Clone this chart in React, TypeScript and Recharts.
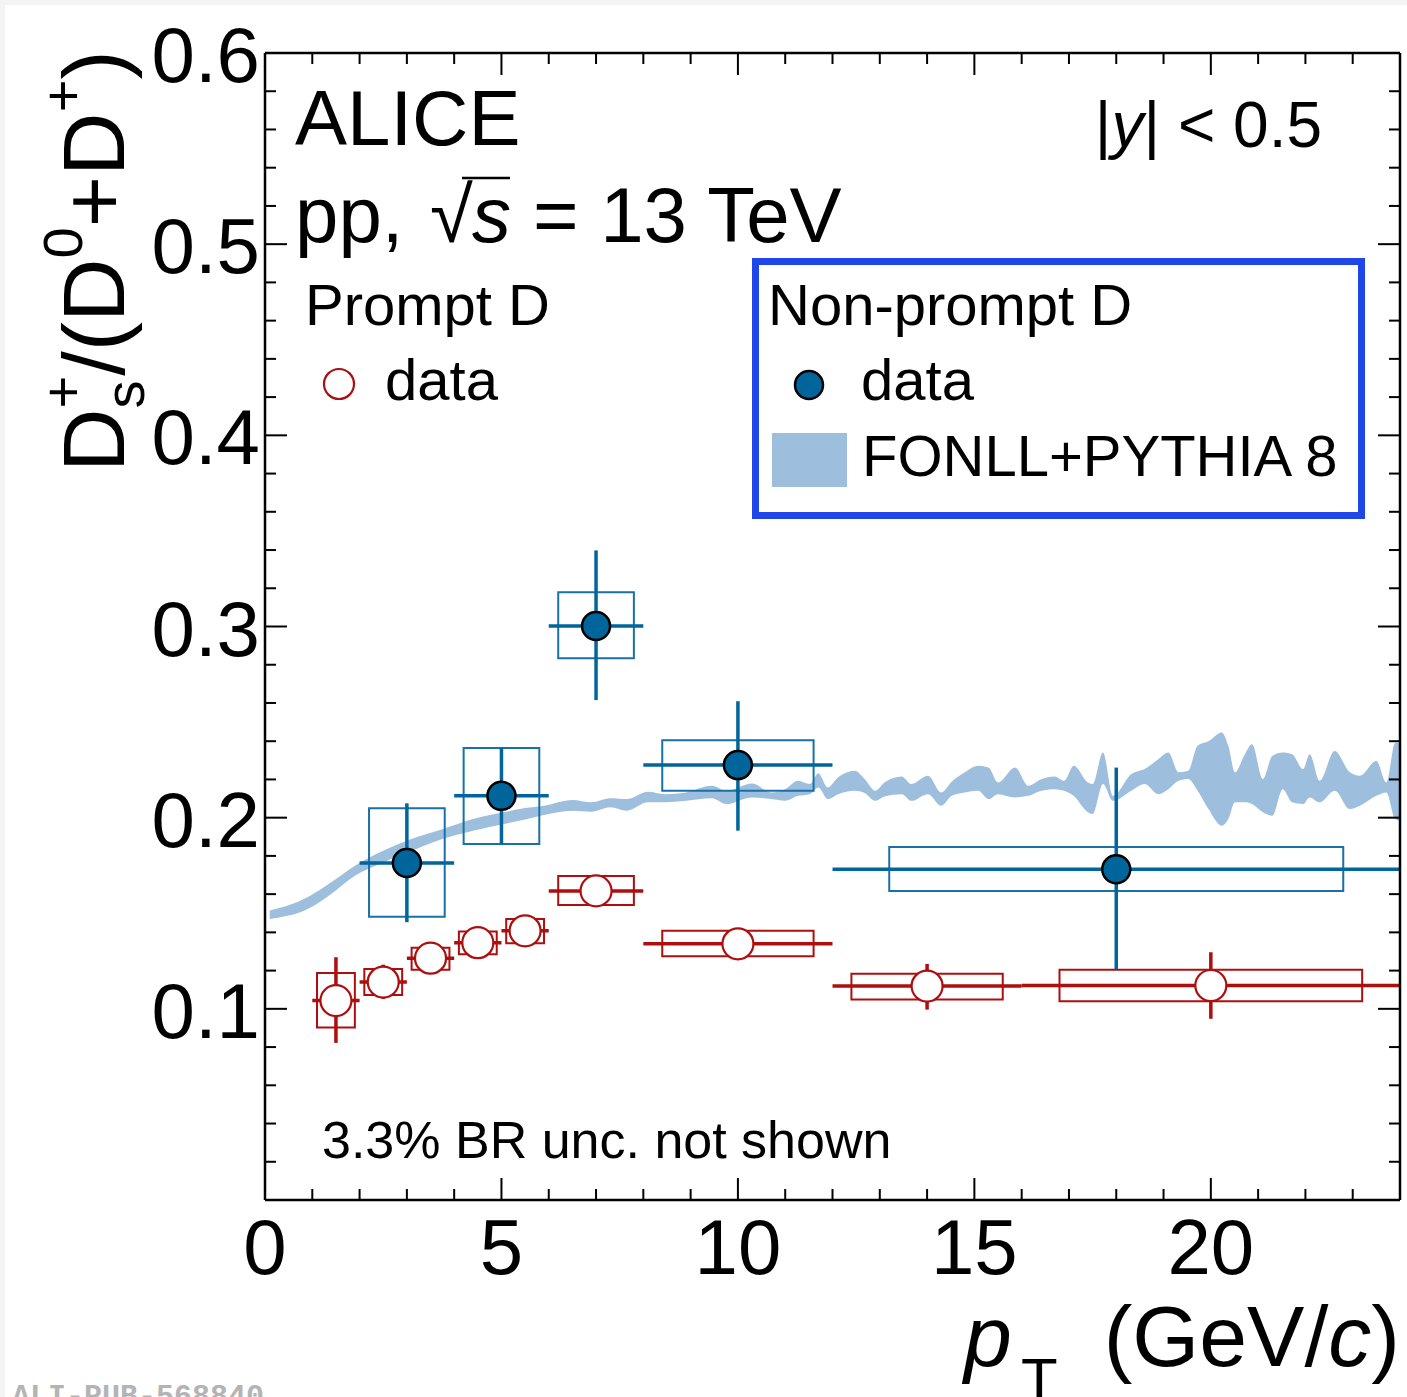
import React from "react";
import {
  ComposedChart,
  Area,
  Scatter,
  ErrorBar,
  XAxis,
  YAxis,
  ReferenceArea,
} from "recharts";

const FONT = '"Liberation Sans", Arial, Helvetica, sans-serif';
const RED = "#ad0f0f";
const BLUE = "#00659b";
const BLUE_BOX = "#1a70a8";
const BAND = "#9dbfdd";
const LEGEND_BORDER = "#1f46e8";

// Non-prompt D (filled blue)
const npX = [3, 5, 7, 10, 18];
const npXLo = [2, 4, 6, 8, 12];
const npXHi = [4, 6, 8, 12, 24];
const npY = [0.1763, 0.2114, 0.3003, 0.2275, 0.173];
const npStatLo = [0.1453, 0.1862, 0.2615, 0.1932, 0.1208];
const npStatHi = [0.2075, 0.2364, 0.3398, 0.2609, 0.2262];
const npSysXLo = [2.2, 4.2, 6.2, 8.4, 13.2];
const npSysXHi = [3.8, 5.8, 7.8, 11.6, 22.8];
const npSysLo = [0.1482, 0.1862, 0.2834, 0.2141, 0.1617];
const npSysHi = [0.2049, 0.2365, 0.3179, 0.2405, 0.1847];

// Prompt D (open red)
const pX = [1.5, 2.5, 3.5, 4.5, 5.5, 7, 10, 14, 20];
const pXLo = [1, 2, 3, 4, 5, 6, 8, 12, 16];
const pXHi = [2, 3, 4, 5, 6, 8, 12, 16, 24];
const pY = [0.1043, 0.114, 0.1265, 0.1346, 0.1408, 0.1617, 0.134, 0.1119, 0.1122];
const pStatLo = [0.0822, 0.1052, 0.1205, 0.129, 0.1355, 0.1575, 0.129, 0.0996, 0.0948];
const pStatHi = [0.127, 0.1231, 0.1325, 0.1402, 0.146, 0.166, 0.139, 0.1235, 0.1296];
const pSysXLo = [1.1, 2.1, 3.1, 4.1, 5.1, 6.2, 8.4, 12.4, 16.8];
const pSysXHi = [1.9, 2.9, 3.9, 4.9, 5.9, 7.8, 11.6, 15.6, 23.2];
const pSysLo = [0.0902, 0.1073, 0.1205, 0.1286, 0.1343, 0.1543, 0.1275, 0.1049, 0.104];
const pSysHi = [0.1188, 0.1209, 0.132, 0.1404, 0.147, 0.1695, 0.1408, 0.1184, 0.1205];

// FONLL+PYTHIA 8 band
const bandX = [
  0.1, 0.9, 1.4, 1.9, 2.5, 3.2, 3.75, 4.4, 5.05, 5.5, 5.9, 6.5, 6.9, 7.3, 7.65,
  8.1, 8.45, 8.9, 9.45, 9.75, 10.3, 10.7, 11.0, 11.27, 11.52, 11.7, 11.9, 12.12,
  12.47, 12.68, 12.9, 13.1, 13.46, 13.67, 14.02, 14.3, 14.52, 14.8, 15.08, 15.3,
  15.5, 15.86, 16.14, 16.4, 16.7, 16.9, 17.1, 17.4, 17.5, 17.72, 17.93, 18.32,
  18.6, 18.89, 19.1, 19.32, 19.52, 19.72, 19.95, 20.23, 20.37, 20.51, 20.72,
  20.87, 21.1, 21.3, 21.52, 21.72, 21.95, 22.09, 22.3, 22.62, 22.94, 23.15, 23.5,
  23.71, 23.9, 24,
];
const bandLow = [
  0.147, 0.1522, 0.1601, 0.1696, 0.1766, 0.1836, 0.1888, 0.1932, 0.1967, 0.199,
  0.2014, 0.2036, 0.2031, 0.2054, 0.2036, 0.208, 0.208, 0.2088, 0.2101, 0.2071,
  0.2106, 0.2097, 0.2088, 0.2114, 0.2123, 0.2158, 0.2097, 0.2123, 0.2141, 0.2129,
  0.2088, 0.2111, 0.2123, 0.2088, 0.2123, 0.2062, 0.2114, 0.2132, 0.2141, 0.2097,
  0.2123, 0.2106, 0.2114, 0.214, 0.2149, 0.2141, 0.2114, 0.2028, 0.2019, 0.2176,
  0.2088, 0.2141, 0.2176, 0.2123, 0.2149, 0.2193, 0.2202, 0.2141, 0.2045, 0.1958,
  0.1993, 0.208, 0.208, 0.2071, 0.2028, 0.201, 0.2149, 0.208, 0.2071, 0.2106,
  0.208, 0.2141, 0.2045, 0.2062, 0.2114, 0.2132, 0.1993, 0.1984,
];
const bandHigh = [
  0.1514, 0.1584, 0.1662, 0.1749, 0.1827, 0.1897, 0.194, 0.1993, 0.2028, 0.205,
  0.2062, 0.2092, 0.208, 0.2101, 0.2097, 0.2135, 0.2123, 0.2132, 0.2167, 0.2141,
  0.2179, 0.2132, 0.2149, 0.2193, 0.2176, 0.2233, 0.2158, 0.2211, 0.2245, 0.2202,
  0.2141, 0.2184, 0.2216, 0.2176, 0.2219, 0.2132, 0.2188, 0.2237, 0.2271, 0.2263,
  0.2184, 0.2263, 0.2167, 0.22, 0.2216, 0.2193, 0.2271, 0.2184, 0.2176, 0.2341,
  0.2114, 0.2228, 0.2254, 0.2306, 0.2341, 0.2237, 0.2245, 0.2376, 0.24, 0.2446,
  0.2376, 0.2237, 0.2332, 0.2384, 0.2202, 0.2323, 0.2341, 0.2332, 0.2254, 0.2332,
  0.2193, 0.2349, 0.2237, 0.2219, 0.2297, 0.2184, 0.2392, 0.2392,
];

// axis ticks
const xTicks = [0, 1, 2, 3, 4, 5, 6, 7, 8, 9, 10, 11, 12, 13, 14, 15, 16, 17, 18, 19, 20, 21, 22, 23, 24];
const xMajorTicks = [0, 5, 10, 15, 20];
const xTickLabels = ["0", "5", "10", "15", "20"];
const yTicks = [
  0, 0.02, 0.04, 0.06, 0.08, 0.1, 0.12, 0.14, 0.16, 0.18, 0.2, 0.22, 0.24, 0.26,
  0.28, 0.3, 0.32, 0.34, 0.36, 0.38, 0.4, 0.42, 0.44, 0.46, 0.48, 0.5, 0.52, 0.54,
  0.56, 0.58, 0.6,
];
const yMajorTicks = [0.1, 0.2, 0.3, 0.4, 0.5, 0.6];
const yTickLabels = ["0.1", "0.2", "0.3", "0.4", "0.5", "0.6"];

const bandData = bandX.map((x, i) => ({ x, range: [bandLow[i], bandHigh[i]] }));

const nonPromptData = npX.map((x, i) => ({
  x,
  y: npY[i],
  ex: [x - npXLo[i], npXHi[i] - x],
  ey: [npY[i] - npStatLo[i], npStatHi[i] - npY[i]],
}));

const promptData = pX.map((x, i) => ({
  x,
  y: pY[i],
  ex: [x - pXLo[i], pXHi[i] - x],
  ey: [pY[i] - pStatLo[i], pStatHi[i] - pY[i]],
}));

const majorIndex = (list: number[], v: number) =>
  list.findIndex((m) => Math.abs(m - v) < 1e-9);

function LeftTick(props: any) {
  const { x, y, payload } = props;
  const idx = majorIndex(yMajorTicks, payload.value);
  const len = idx >= 0 ? 22 : 11;
  return (
    <g>
      <line x1={x} y1={y} x2={x + len} y2={y} stroke="#000" strokeWidth={2} />
      {idx >= 0 && (
        <text x={x - 5} y={y + 29} textAnchor="end" fontSize={78} fontFamily={FONT} fill="#000">
          {yTickLabels[idx]}
        </text>
      )}
    </g>
  );
}

function RightTick(props: any) {
  const { x, y, payload } = props;
  const len = majorIndex(yMajorTicks, payload.value) >= 0 ? 22 : 11;
  return <line x1={x} y1={y} x2={x - len} y2={y} stroke="#000" strokeWidth={2} />;
}

function BottomTick(props: any) {
  const { x, y, payload } = props;
  const idx = majorIndex(xMajorTicks, payload.value);
  const len = idx >= 0 ? 22 : 11;
  return (
    <g>
      <line x1={x} y1={y} x2={x} y2={y - len} stroke="#000" strokeWidth={2} />
      {idx >= 0 && (
        <text x={x} y={y + 74} textAnchor="middle" fontSize={78} fontFamily={FONT} fill="#000">
          {xTickLabels[idx]}
        </text>
      )}
    </g>
  );
}

function TopTick(props: any) {
  const { x, y, payload } = props;
  const len = majorIndex(xMajorTicks, payload.value) >= 0 ? 22 : 11;
  return <line x1={x} y1={y} x2={x} y2={y + len} stroke="#000" strokeWidth={2} />;
}

const OpenCircle = (props: any) => (
  <circle cx={props.cx} cy={props.cy} r={15.5} fill="#fff" stroke={RED} strokeWidth={2.2} />
);

const FilledCircle = (props: any) => (
  <circle cx={props.cx} cy={props.cy} r={14} fill={BLUE} stroke="#000" strokeWidth={2.5} />
);

const axisLine = { stroke: "#000", strokeWidth: 2.5 };

export default function App() {
  return (
    <div
      style={{
        position: "absolute",
        left: 0,
        top: 0,
        width: 1407,
        height: 1397,
        background: "#f4f4f4",
        overflow: "hidden",
      }}
    >
      <div style={{ position: "absolute", left: 5, top: 5, right: 0, bottom: 0, background: "#fff" }} />
      <div style={{ position: "absolute", left: 0, top: 0 }}>
        <ComposedChart
          width={1407}
          height={1397}
          margin={{ top: 52, right: 6, bottom: 196, left: 264 }}
        >
          <XAxis
            xAxisId={0}
            type="number"
            dataKey="x"
            domain={[0, 24]}
            ticks={xTicks}
            interval={0}
            allowDataOverflow
            height={1}
            tickSize={0}
            tickMargin={0}
            tickLine={false}
            axisLine={axisLine}
            tick={BottomTick}
          />
          <XAxis
            xAxisId="top"
            orientation="top"
            type="number"
            dataKey="x"
            domain={[0, 24]}
            ticks={xTicks}
            interval={0}
            allowDataOverflow
            height={1}
            tickSize={0}
            tickMargin={0}
            tickLine={false}
            axisLine={axisLine}
            tick={TopTick}
          />
          <YAxis
            yAxisId={0}
            type="number"
            domain={[0, 0.6]}
            ticks={yTicks}
            interval={0}
            allowDataOverflow
            width={1}
            tickSize={0}
            tickMargin={0}
            tickLine={false}
            axisLine={axisLine}
            tick={LeftTick}
          />
          <YAxis
            yAxisId="right"
            orientation="right"
            type="number"
            domain={[0, 0.6]}
            ticks={yTicks}
            interval={0}
            allowDataOverflow
            width={1}
            tickSize={0}
            tickMargin={0}
            tickLine={false}
            axisLine={axisLine}
            tick={RightTick}
          />

          <Area
            data={bandData}
            dataKey="range"
            type="monotone"
            fill={BAND}
            fillOpacity={1}
            stroke="none"
            isAnimationActive={false}
          />

          {pX.map((_, i) => (
            <ReferenceArea
              key={`psys${i}`}
              x1={pSysXLo[i]}
              x2={pSysXHi[i]}
              y1={pSysLo[i]}
              y2={pSysHi[i]}
              fill="none"
              stroke={RED}
              strokeWidth={2}
              ifOverflow="visible"
            />
          ))}
          {npX.map((_, i) => (
            <ReferenceArea
              key={`npsys${i}`}
              x1={npSysXLo[i]}
              x2={npSysXHi[i]}
              y1={npSysLo[i]}
              y2={npSysHi[i]}
              fill="none"
              stroke={BLUE_BOX}
              strokeWidth={2}
              ifOverflow="visible"
            />
          ))}

          <Scatter data={promptData} dataKey="y" shape={OpenCircle} isAnimationActive={false}>
            <ErrorBar dataKey="ex" direction="x" width={0} stroke={RED} strokeWidth={3.5} />
            <ErrorBar dataKey="ey" direction="y" width={0} stroke={RED} strokeWidth={3.5} />
          </Scatter>
          <Scatter data={nonPromptData} dataKey="y" shape={FilledCircle} isAnimationActive={false}>
            <ErrorBar dataKey="ex" direction="x" width={0} stroke={BLUE} strokeWidth={3.5} />
            <ErrorBar dataKey="ey" direction="y" width={0} stroke={BLUE} strokeWidth={3.5} />
          </Scatter>
        </ComposedChart>
      </div>

      <svg
        width={1407}
        height={1397}
        style={{ position: "absolute", left: 0, top: 0, pointerEvents: "none" }}
        fontFamily={FONT}
      >
        <text x={295} y={145} fontSize={78} fill="#000">ALICE</text>
        <text x={295} y={242} fontSize={78} fill="#000">pp,</text>
        <text x={430} y={242} fontSize={78} fill="#000">√</text>
        <line x1={462} y1={178} x2={510} y2={178} stroke="#000" strokeWidth={2.5} />
        <text x={472} y={242} fontSize={78} fontStyle="italic" fill="#000">s</text>
        <text x={533} y={242} fontSize={78} fill="#000">= 13 TeV</text>

        <text x={1322} y={147} fontSize={64} textAnchor="end" fill="#000">
          |<tspan fontStyle="italic">y</tspan>| &lt; 0.5
        </text>

        <text x={305} y={325} fontSize={58} fill="#000">Prompt D</text>
        <circle cx={339} cy={384} r={15} fill="#fff" stroke={RED} strokeWidth={2.2} />
        <text x={385} y={400} fontSize={58} fill="#000">data</text>

        <rect x={755.5} y={261.5} width={606} height={254} fill="none" stroke={LEGEND_BORDER} strokeWidth={7} />
        <text x={768} y={325} fontSize={58} fill="#000">Non-prompt D</text>
        <circle cx={809} cy={385} r={14} fill={BLUE} stroke="#000" strokeWidth={2.5} />
        <text x={861} y={400} fontSize={58} fill="#000">data</text>
        <rect x={772} y={433} width={75} height={54} fill={BAND} />
        <text x={862} y={476} fontSize={58} fill="#000">FONLL+PYTHIA 8</text>

        <text x={322} y={1158} fontSize={52} fill="#000">3.3% BR unc. not shown</text>

        <text transform="translate(124,472) rotate(-90)" fontSize={88} fill="#000">
          D
          <tspan fontSize={56} dy={20}>s</tspan>
          <tspan fontSize={56} dx={-28} dy={-62}>+</tspan>
          <tspan dy={42}>/(D</tspan>
          <tspan fontSize={56} dy={-42}>0</tspan>
          <tspan dy={42}>+D</tspan>
          <tspan fontSize={56} dy={-42}>+</tspan>
          <tspan dy={42}>)</tspan>
        </text>

        <text x={964} y={1366} fontSize={86} fontStyle="italic" fill="#000">p</text>
        <text x={1021} y={1400} fontSize={60} fill="#000">T</text>
        <text x={1400} y={1366} fontSize={86} textAnchor="end" fill="#000">
          (GeV/<tspan fontStyle="italic">c</tspan>)
        </text>

        <text x={12} y={1405} fontSize={30} fontFamily='"Liberation Mono", monospace' fontWeight="bold" fill="#b4b4b4">
          ALI-PUB-568840
        </text>
      </svg>
    </div>
  );
}
